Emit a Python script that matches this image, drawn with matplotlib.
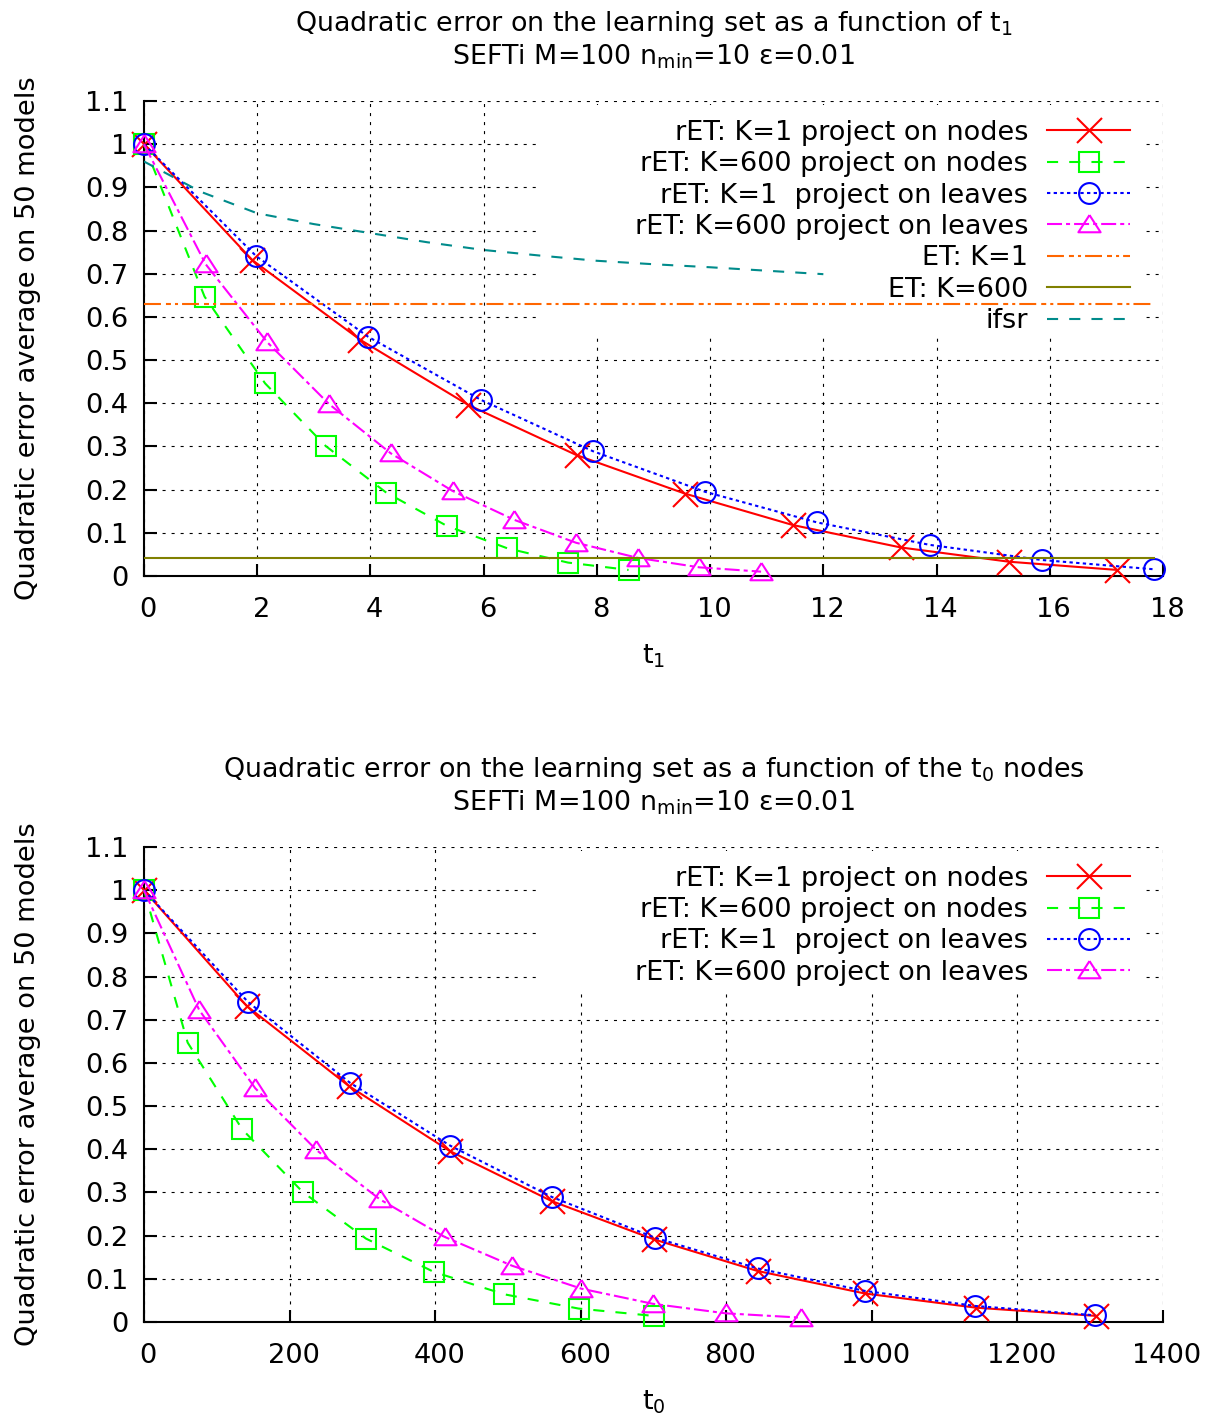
import matplotlib
matplotlib.use('Agg')
import matplotlib.pyplot as plt
from matplotlib.patches import Rectangle
from matplotlib.transforms import ScaledTranslation

plt.rcParams['font.family'] = 'DejaVu Sans'
plt.rcParams['font.size'] = 19.6
plt.rcParams['mathtext.default'] = 'regular'
plt.rcParams['lines.scale_dashes'] = False

# error as a function of t1
t1_nodes_k1 = [0, 1.91, 3.82, 5.73, 7.64, 9.55, 11.46, 13.37, 15.28, 17.19]
t1_nodes_k600 = [0, 1.07, 2.14, 3.21, 4.28, 5.35, 6.42, 7.49, 8.56]
t1_leaves_k1 = [0, 1.98, 3.96, 5.95, 7.93, 9.91, 11.89, 13.88, 15.86, 17.84]
t1_leaves_k600 = [0, 1.09, 2.18, 3.27, 4.36, 5.45, 6.54, 7.63, 8.72, 9.81, 10.9]
t1_ifsr = [0, 1, 2, 3, 4, 5, 6, 7, 8, 9, 10, 11, 12]

# same runs, counted in t0 nodes
t0_nodes_k1 = [0, 141, 281, 420, 560, 701, 843, 990, 1143, 1308]
t0_nodes_k600 = [0, 60, 135, 218, 305, 398, 495, 597, 700]
t0_leaves_k1 = [0, 143, 283, 421, 561, 702, 843, 990, 1142, 1306]
t0_leaves_k600 = [0, 76, 153, 237, 324, 413, 506, 601, 699, 799, 902]

err_nodes_k1 = [1.0, 0.732, 0.547, 0.396, 0.280, 0.191, 0.118, 0.066, 0.033, 0.014]
err_nodes_k600 = [1.0, 0.647, 0.446, 0.301, 0.193, 0.116, 0.064, 0.031, 0.014]
err_leaves_k1 = [1.0, 0.741, 0.554, 0.408, 0.289, 0.195, 0.124, 0.072, 0.037, 0.0155]
err_leaves_k600 = [1.0, 0.722, 0.541, 0.398, 0.284, 0.197, 0.130, 0.077, 0.042, 0.020, 0.010]
err_ifsr = [0.96, 0.89, 0.84, 0.815, 0.794, 0.773, 0.755, 0.742, 0.730, 0.722, 0.715, 0.707, 0.699]
err_et_k1 = 0.631
err_et_k600 = 0.041

yticks = [0, 0.1, 0.2, 0.3, 0.4, 0.5, 0.6, 0.7, 0.8, 0.9, 1.0, 1.1]
ytick_labels = ['0', '0.1', '0.2', '0.3', '0.4', '0.5', '0.6', '0.7', '0.8', '0.9', '1', '1.1']

labels = ['rET: K=1 project on nodes', 'rET: K=600 project on nodes',
          'rET: K=1  project on leaves', 'rET: K=600 project on leaves',
          'ET: K=1', 'ET: K=600', 'ifsr']

tri = [(0, 0.85), (-1, -0.7), (1, -0.7), (0, 0.85)]
LW = 1.5
styles = [
    dict(color='#ff0000', ls='-', marker='x', ms=18, mew=LW),
    dict(color='#00ff00', ls=(0, (8, 8)), marker='s', ms=15, mew=LW, mfc='none'),
    dict(color='#0000ff', ls=(0, (2.4, 2.4)), marker='o', ms=15, mew=LW, mfc='none'),
    dict(color='#ff00ff', ls=(0, (10.8, 2.9, 2.9, 2.9)), marker=tri, ms=16, mew=LW, mfc='none'),
    dict(color='#ff6600', ls=(0, (12.2, 3.6, 3.6, 2.9, 2.2, 2.9))),
    dict(color='#808000', ls='-'),
    dict(color='#008b8b', ls=(0, (8, 8))),
]


def setup(ax, xmax, xstep, xlabel, title, cover_h):
    ax.set_xlim(0, xmax)
    ax.set_ylim(0, 1.1)
    ax.set_xticks(range(0, xmax + 1, xstep))
    ax.set_yticks(yticks)
    ax.set_yticklabels(ytick_labels)
    for s in ['top', 'right']:
        ax.spines[s].set_visible(False)
    for s in ['left', 'bottom']:
        ax.spines[s].set_linewidth(1.5)
    ax.tick_params(direction='in', length=9, width=1.5, pad=11)
    ax.tick_params(axis='x', pad=15.5)
    shift = ScaledTranslation(0.04, 0, ax.figure.dpi_scale_trans)
    for lab in ax.get_xticklabels():
        lab.set_transform(lab.get_transform() + shift)
    ax.set_axisbelow(True)
    ax.grid(True, color='black', lw=0.8, ls=(0, (2.2, 4.3)))
    # blank area behind the key
    ax.add_patch(Rectangle((0.3867, 0.9916 - cover_h), 0.5966, cover_h,
                           transform=ax.transAxes, facecolor='white',
                           edgecolor='none', zorder=1))
    ax.set_xlabel(xlabel, labelpad=14)
    ax.set_ylabel('Quadratic error average on 50 models')
    ax.yaxis.set_label_coords(-0.1007, 0.5)
    ax.set_title(title, pad=26.6, linespacing=1.12, fontsize=19.4)


fig = plt.figure(figsize=(12.13, 14.19), dpi=100)
ax1 = fig.add_axes([0.1187, 0.5941, 0.8401, 0.3347])
ax2 = fig.add_axes([0.1187, 0.0684, 0.8401, 0.3347])

setup(ax1, 18, 2, '$t_1$',
      'Quadratic error on the learning set as a function of $t_1$\n'
      'SEFTi M=100 $n_{min}$=10 ε=0.01', 0.4886)
setup(ax2, 1400, 200, '$t_0$',
      'Quadratic error on the learning set as a function of the $t_0$ nodes\n'
      'SEFTi M=100 $n_{min}$=10 ε=0.01', 0.2906)

top_series = [(t1_nodes_k1, err_nodes_k1), (t1_nodes_k600, err_nodes_k600),
              (t1_leaves_k1, err_leaves_k1), (t1_leaves_k600, err_leaves_k600)]
bot_series = [(t0_nodes_k1, err_nodes_k1), (t0_nodes_k600, err_nodes_k600),
              (t0_leaves_k1, err_leaves_k1), (t0_leaves_k600, err_leaves_k600)]

for i, (x, y) in enumerate(top_series):
    ax1.plot(x, y, lw=LW, label=labels[i], clip_on=False, zorder=3, **styles[i])
xend = t1_leaves_k1[-1]
ax1.plot([0, xend], [err_et_k1, err_et_k1], lw=LW, label=labels[4], zorder=3, **styles[4])
ax1.plot([0, xend], [err_et_k600, err_et_k600], lw=LW, label=labels[5], zorder=3, **styles[5])
ax1.plot(t1_ifsr, err_ifsr, lw=LW, label=labels[6], zorder=3, **styles[6])

for i, (x, y) in enumerate(bot_series):
    ax2.plot(x, y, lw=LW, label=labels[i], clip_on=False, zorder=3, **styles[i])

for ax in (ax1, ax2):
    leg = ax.legend(loc='upper right', bbox_to_anchor=(0.9676, 0.9607),
                    frameon=False, markerfirst=False, numpoints=1,
                    handlelength=3.06, handletextpad=0.70, labelspacing=0.2,
                    borderpad=0, borderaxespad=0, fontsize=19.5)
    leg.set_zorder(4)

fig.savefig('out.png', dpi=100)
